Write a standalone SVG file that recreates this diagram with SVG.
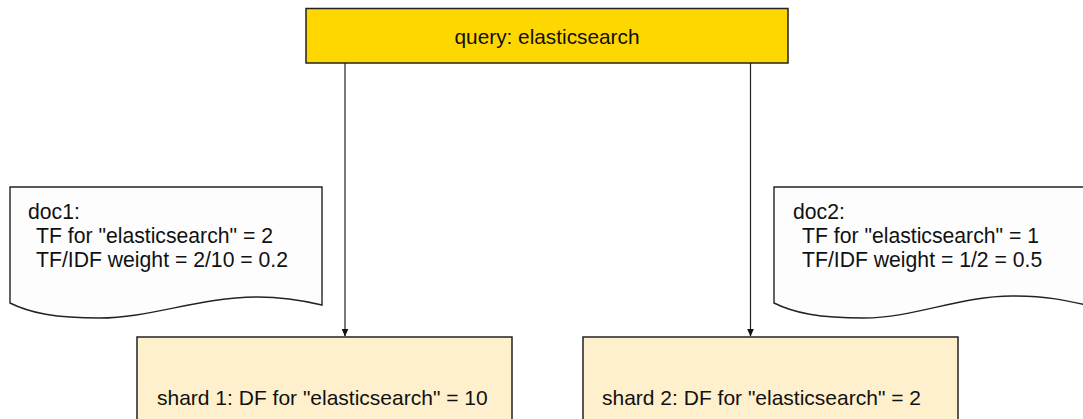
<svg xmlns="http://www.w3.org/2000/svg" width="1083" height="419" viewBox="0 0 1083 419">
<style>
.t{font-family:"Liberation Sans",Arial,sans-serif;font-size:20.8px;fill:#111}
.d{font-size:21.2px}
.s{font-size:21px}
.box{stroke:#222;stroke-width:1.5}
.doc{fill:#fdfdfd;stroke:#222;stroke-width:1.4}
.edge{stroke:#222;stroke-width:1.2;fill:none}
</style>
<defs>
<marker id="ah" markerWidth="8" markerHeight="11" refX="7.5" refY="4" orient="auto" markerUnits="userSpaceOnUse" viewBox="0 0 8 8">
<path d="M0,0.5 L8,4 L0,7.5 Z" fill="#111"/>
</marker>
</defs>
<rect width="1083" height="419" fill="#fff"/>
<g id="doc1">
<path class="doc" d="M10,187 H322 V305 C305,301 285,297 258,297 C200,297 150,318 100,318 C55,318 30,313 10,303 Z"/>
<text class="t d" x="28" y="219">doc1:</text>
<text class="t d" x="36" y="243">TF for "elasticsearch" = 2</text>
<text class="t d" x="36" y="267">TF/IDF weight = 2/10 = 0.2</text>
</g>
<g id="doc2">
<path class="doc" d="M774,187 H1086 V305 C1069,301 1049,296 1012,296 C960,296 914,318 864,318 C819,318 794,313 774,303 Z"/>
<text class="t d" x="793" y="219">doc2:</text>
<text class="t d" x="802" y="243">TF for "elasticsearch" = 1</text>
<text class="t d" x="802" y="267">TF/IDF weight = 1/2 = 0.5</text>
</g>
<g id="query">
<rect class="box" x="306" y="8.5" width="482" height="54.5" fill="#ffd700"/>
<text class="t" x="547" y="44" text-anchor="middle">query: elasticsearch</text>
</g>
<g id="shard1">
<rect class="box" x="137" y="337" width="375" height="100" fill="#fef0cc"/>
<text class="t s" x="157" y="405">shard 1: DF for "elasticsearch" = 10</text>
</g>
<g id="shard2">
<rect class="box" x="583" y="337" width="375" height="100" fill="#fef0cc"/>
<text class="t s" x="602" y="405">shard 2: DF for "elasticsearch" = 2</text>
</g>
<g id="connectors">
<line class="edge" x1="345" y1="63" x2="345" y2="336" marker-end="url(#ah)"/>
<line class="edge" x1="750.5" y1="63" x2="750.5" y2="336" marker-end="url(#ah)"/>
</g>
</svg>
